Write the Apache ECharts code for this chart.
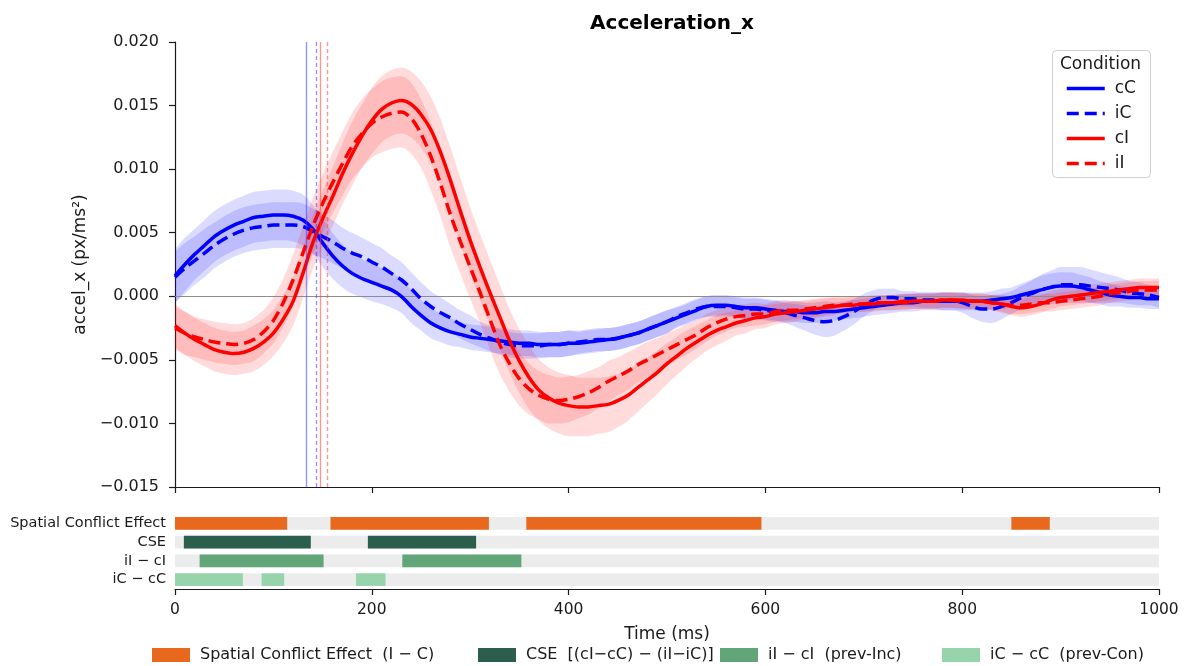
<!DOCTYPE html>
<html>
<head>
<meta charset="utf-8">
<script src="https://cdn.jsdelivr.net/npm/echarts@6/dist/echarts.min.js"></script>
<style>
  html, body { margin: 0; padding: 0; background: #fff; }
  #chart { width: 1184px; height: 666px; }
</style>
</head>
<body>
<div id="chart"></div>
<script>
// Sample grid of the averaged traces (ms after onset)
const timeMs = Array.from({ length: 101 }, (_, i) => i * 10);

const conditions = ['cC', 'iC', 'cI', 'iI'];

// Mean horizontal acceleration per condition (px/ms²), one value per 10 ms
const cC = [
  0.0016, 0.0025, 0.0033, 0.0040, 0.0047, 0.0052, 0.0056, 0.0059, 0.0062, 0.0063,
  0.0064, 0.0064, 0.0063, 0.0060, 0.0053, 0.0042, 0.0032, 0.0024, 0.0018, 0.0014,
  0.0011, 0.0008, 0.0005, 0.0000, -0.0008, -0.0015, -0.0021, -0.0025, -0.0028, -0.0030,
  -0.0032, -0.0033, -0.0034, -0.0035, -0.0036, -0.0037, -0.0037, -0.0038, -0.0038, -0.0038,
  -0.0037, -0.0037, -0.0036, -0.0035, -0.0034, -0.0033, -0.0031, -0.0029, -0.0026, -0.0023,
  -0.0020, -0.0017, -0.0014, -0.0011, -0.0008, -0.0007, -0.0007, -0.0008, -0.0009, -0.0009,
  -0.0010, -0.0011, -0.0012, -0.0012, -0.0013, -0.0013, -0.0012, -0.0012, -0.0011, -0.0010,
  -0.0009, -0.0008, -0.0007, -0.0006, -0.0005, -0.0005, -0.0004, -0.0004, -0.0004, -0.0004,
  -0.0004, -0.0004, -0.0004, -0.0003, -0.0002, -0.0001, 0.0001, 0.0003, 0.0005, 0.0007,
  0.0008, 0.0008, 0.0007, 0.0005, 0.0003, 0.0001, 0.0000, -0.0001, -0.0001, -0.0002,
  -0.0002
];
const iC = [
  0.0015, 0.0022, 0.0028, 0.0034, 0.0040, 0.0045, 0.0049, 0.0052, 0.0054, 0.0055,
  0.0056, 0.0056, 0.0056, 0.0055, 0.0051, 0.0047, 0.0043, 0.0038, 0.0034, 0.0031,
  0.0027, 0.0023, 0.0018, 0.0013, 0.0006, -0.0002, -0.0008, -0.0013, -0.0017, -0.0022,
  -0.0026, -0.0030, -0.0033, -0.0036, -0.0038, -0.0039, -0.0039, -0.0039, -0.0038, -0.0038,
  -0.0037, -0.0036, -0.0035, -0.0034, -0.0034, -0.0033, -0.0031, -0.0029, -0.0026, -0.0023,
  -0.0020, -0.0016, -0.0013, -0.0010, -0.0008, -0.0008, -0.0008, -0.0009, -0.0010, -0.0010,
  -0.0011, -0.0012, -0.0013, -0.0015, -0.0017, -0.0019, -0.0020, -0.0019, -0.0016, -0.0012,
  -0.0007, -0.0003, -0.0001, -0.0001, -0.0002, -0.0002, -0.0003, -0.0003, -0.0004, -0.0004,
  -0.0005, -0.0008, -0.0010, -0.0010, -0.0008, -0.0005, -0.0001, 0.0002, 0.0005, 0.0007,
  0.0009, 0.0009, 0.0009, 0.0008, 0.0007, 0.0006, 0.0005, 0.0003, 0.0002, 0.0001,
  -0.0001
];
const cI = [
  -0.0023, -0.0029, -0.0034, -0.0038, -0.0042, -0.0044, -0.0045, -0.0044, -0.0041, -0.0036,
  -0.0029, -0.0018, -0.0004, 0.0018, 0.0042, 0.0061, 0.0078, 0.0096, 0.0112, 0.0126,
  0.0138, 0.0147, 0.0152, 0.0154, 0.0151, 0.0143, 0.0131, 0.0113, 0.0091, 0.0067,
  0.0044, 0.0023, 0.0003, -0.0016, -0.0035, -0.0051, -0.0064, -0.0074, -0.0080, -0.0084,
  -0.0086, -0.0087, -0.0087, -0.0086, -0.0085, -0.0082, -0.0078, -0.0072, -0.0066, -0.0060,
  -0.0053, -0.0047, -0.0041, -0.0036, -0.0031, -0.0027, -0.0024, -0.0021, -0.0019, -0.0017,
  -0.0016, -0.0014, -0.0013, -0.0012, -0.0011, -0.0010, -0.0009, -0.0008, -0.0007, -0.0007,
  -0.0006, -0.0006, -0.0005, -0.0005, -0.0005, -0.0004, -0.0004, -0.0004, -0.0003, -0.0003,
  -0.0003, -0.0004, -0.0004, -0.0005, -0.0006, -0.0008, -0.0009, -0.0008, -0.0006, -0.0003,
  -0.0001, 0.0000, 0.0001, 0.0002, 0.0003, 0.0004, 0.0005, 0.0006, 0.0007, 0.0007,
  0.0007
];
const iI = [
  -0.0025, -0.0029, -0.0032, -0.0034, -0.0036, -0.0037, -0.0038, -0.0037, -0.0034, -0.0028,
  -0.0019, -0.0005, 0.0013, 0.0034, 0.0055, 0.0073, 0.0089, 0.0104, 0.0118, 0.0128,
  0.0136, 0.0141, 0.0144, 0.0145, 0.0140, 0.0128, 0.0110, 0.0088, 0.0064, 0.0043,
  0.0023, 0.0003, -0.0018, -0.0038, -0.0053, -0.0065, -0.0073, -0.0078, -0.0081, -0.0082,
  -0.0081, -0.0079, -0.0076, -0.0072, -0.0067, -0.0063, -0.0059, -0.0054, -0.0050, -0.0046,
  -0.0042, -0.0038, -0.0034, -0.0030, -0.0025, -0.0021, -0.0018, -0.0016, -0.0015, -0.0014,
  -0.0014, -0.0012, -0.0011, -0.0011, -0.0010, -0.0009, -0.0008, -0.0007, -0.0007, -0.0006,
  -0.0006, -0.0005, -0.0005, -0.0005, -0.0004, -0.0004, -0.0004, -0.0004, -0.0003, -0.0003,
  -0.0004, -0.0004, -0.0004, -0.0005, -0.0006, -0.0007, -0.0007, -0.0006, -0.0005, -0.0005,
  -0.0004, -0.0003, -0.0002, -0.0001, 0.0000, 0.0002, 0.0003, 0.0004, 0.0005, 0.0005,
  0.0005
];

// 95% CI half-widths per condition
const ciCC = [
  0.0021, 0.0021, 0.0020, 0.0020, 0.0020, 0.0020, 0.0020, 0.0020, 0.0020, 0.0020,
  0.0020, 0.0020, 0.0020, 0.0020, 0.0019, 0.0019, 0.0018, 0.0017, 0.0016, 0.0015,
  0.0015, 0.0014, 0.0014, 0.0013, 0.0013, 0.0012, 0.0012, 0.0011, 0.0011, 0.0010,
  0.0010, 0.0010, 0.0010, 0.0010, 0.0010, 0.0010, 0.0010, 0.0010, 0.0010, 0.0010,
  0.0010, 0.0009, 0.0009, 0.0009, 0.0009, 0.0009, 0.0009, 0.0009, 0.0009, 0.0009,
  0.0009, 0.0008, 0.0008, 0.0008, 0.0008, 0.0008, 0.0008, 0.0008, 0.0008, 0.0008,
  0.0008, 0.0008, 0.0008, 0.0008, 0.0008, 0.0008, 0.0008, 0.0007, 0.0007, 0.0007,
  0.0007, 0.0007, 0.0007, 0.0007, 0.0007, 0.0007, 0.0007, 0.0007, 0.0007, 0.0007,
  0.0007, 0.0007, 0.0007, 0.0007, 0.0008, 0.0008, 0.0009, 0.0010, 0.0011, 0.0011,
  0.0011, 0.0011, 0.0010, 0.0010, 0.0009, 0.0009, 0.0008, 0.0008, 0.0008, 0.0008,
  0.0008
];
const ciIC = [
  0.0020, 0.0020, 0.0019, 0.0019, 0.0018, 0.0018, 0.0018, 0.0018, 0.0018, 0.0018,
  0.0018, 0.0018, 0.0018, 0.0018, 0.0018, 0.0017, 0.0017, 0.0016, 0.0016, 0.0015,
  0.0015, 0.0015, 0.0014, 0.0014, 0.0013, 0.0013, 0.0012, 0.0012, 0.0011, 0.0011,
  0.0011, 0.0010, 0.0010, 0.0010, 0.0010, 0.0010, 0.0010, 0.0010, 0.0010, 0.0010,
  0.0010, 0.0009, 0.0009, 0.0009, 0.0009, 0.0009, 0.0009, 0.0009, 0.0009, 0.0009,
  0.0009, 0.0008, 0.0008, 0.0008, 0.0008, 0.0008, 0.0008, 0.0008, 0.0008, 0.0008,
  0.0008, 0.0008, 0.0008, 0.0009, 0.0010, 0.0011, 0.0012, 0.0012, 0.0011, 0.0010,
  0.0009, 0.0008, 0.0007, 0.0007, 0.0006, 0.0006, 0.0006, 0.0006, 0.0007, 0.0007,
  0.0008, 0.0009, 0.0010, 0.0011, 0.0010, 0.0009, 0.0009, 0.0010, 0.0012, 0.0013,
  0.0014, 0.0014, 0.0014, 0.0013, 0.0012, 0.0011, 0.0010, 0.0009, 0.0009, 0.0008,
  0.0008
];
const ciCI = [
  0.0017, 0.0017, 0.0017, 0.0017, 0.0017, 0.0017, 0.0017, 0.0017, 0.0018, 0.0018,
  0.0018, 0.0019, 0.0019, 0.0020, 0.0021, 0.0022, 0.0023, 0.0024, 0.0025, 0.0025,
  0.0026, 0.0026, 0.0026, 0.0026, 0.0026, 0.0026, 0.0026, 0.0026, 0.0026, 0.0026,
  0.0026, 0.0026, 0.0026, 0.0025, 0.0025, 0.0025, 0.0025, 0.0024, 0.0024, 0.0024,
  0.0024, 0.0023, 0.0023, 0.0022, 0.0022, 0.0021, 0.0020, 0.0019, 0.0018, 0.0017,
  0.0016, 0.0015, 0.0014, 0.0013, 0.0012, 0.0012, 0.0011, 0.0010, 0.0010, 0.0009,
  0.0009, 0.0008, 0.0008, 0.0008, 0.0007, 0.0007, 0.0007, 0.0007, 0.0006, 0.0006,
  0.0006, 0.0006, 0.0006, 0.0006, 0.0006, 0.0006, 0.0006, 0.0006, 0.0006, 0.0006,
  0.0006, 0.0006, 0.0006, 0.0006, 0.0007, 0.0007, 0.0007, 0.0007, 0.0007, 0.0007,
  0.0007, 0.0007, 0.0007, 0.0007, 0.0007, 0.0007, 0.0007, 0.0007, 0.0007, 0.0007,
  0.0007
];
const ciII = [
  0.0017, 0.0017, 0.0016, 0.0016, 0.0016, 0.0016, 0.0016, 0.0016, 0.0017, 0.0017,
  0.0018, 0.0019, 0.0020, 0.0021, 0.0022, 0.0023, 0.0024, 0.0025, 0.0026, 0.0027,
  0.0027, 0.0028, 0.0028, 0.0028, 0.0028, 0.0027, 0.0027, 0.0026, 0.0026, 0.0025,
  0.0025, 0.0024, 0.0024, 0.0023, 0.0022, 0.0021, 0.0020, 0.0019, 0.0019, 0.0018,
  0.0018, 0.0017, 0.0017, 0.0016, 0.0016, 0.0015, 0.0015, 0.0014, 0.0014, 0.0013,
  0.0013, 0.0012, 0.0012, 0.0011, 0.0011, 0.0010, 0.0010, 0.0009, 0.0009, 0.0009,
  0.0008, 0.0008, 0.0008, 0.0007, 0.0007, 0.0007, 0.0007, 0.0006, 0.0006, 0.0006,
  0.0006, 0.0006, 0.0006, 0.0006, 0.0006, 0.0006, 0.0006, 0.0006, 0.0006, 0.0006,
  0.0006, 0.0006, 0.0006, 0.0006, 0.0006, 0.0007, 0.0007, 0.0007, 0.0007, 0.0007,
  0.0007, 0.0007, 0.0007, 0.0007, 0.0007, 0.0007, 0.0007, 0.0007, 0.0007, 0.0007,
  0.0007
];

// Movement onset per condition (ms), same order as `conditions`
const onsetMs = [133, 144, 148, 155];

// Significance rows of the lower panel, top to bottom
const effectRows = ['Spatial Conflict Effect', 'CSE', 'iI \u2212 cI', 'iC \u2212 cC'];
const effectNames = [
  'Spatial Conflict Effect  (I \u2212 C)',
  'CSE  [(cI\u2212cC) \u2212 (iI\u2212iC)]',
  'iI \u2212 cI  (prev-Inc)',
  'iC \u2212 cC  (prev-Con)'
];
// Significant clusters [start ms, end ms] per row
const sceClusters = [[0, 114], [158, 319], [357, 596], [850, 889]];
const cseClusters = [[9, 138], [196, 306]];
const prevIncClusters = [[25, 151], [231, 352]];
const prevConClusters = [[0, 69], [88, 111], [184, 214]];

// Axis ranges
const timeRange = [0, 1000];
const accelRange = [-0.015, 0.020];

// ---- styling ----
const FONT = 'DejaVu Sans';
const INK = '#1a1a1a';
const meanBy = { cC, iC, cI, iI };
const ciBy = { cC: ciCC, iC: ciIC, cI: ciCI, iI: ciII };
const styleBy = {
  cC: { color: '#0000ff', band: 'rgba(0,0,255,0.14)', onset: 'rgba(60,60,255,0.55)', dash: 'solid' },
  iC: { color: '#0000ff', band: 'rgba(0,0,255,0.14)', onset: 'rgba(60,60,255,0.55)', dash: [12, 6] },
  cI: { color: '#ff0000', band: 'rgba(255,0,0,0.14)', onset: 'rgba(255,60,60,0.55)', dash: 'solid' },
  iI: { color: '#ff0000', band: 'rgba(255,0,0,0.14)', onset: 'rgba(255,60,60,0.55)', dash: [12, 6] }
};
const effectColors = ['#e8691d', '#2b5e4d', '#61a579', '#97d4ab'];
const effectClusters = [sceClusters, cseClusters, prevIncClusters, prevConClusters];
// left edge of each entry in the bottom key
const effectKeyLeft = [152, 478, 720, 942];

const series = [];

// Confidence bands: invisible lower edge + stacked width filled as area
conditions.forEach((c) => {
  const m = meanBy[c], ci = ciBy[c];
  const lower = m.map((v, i) => v - ci[i]);
  const width = ci.map((h) => 2 * h);
  const common = {
    type: 'line', xAxisIndex: 0, yAxisIndex: 0, stack: 'band-' + c, stackStrategy: 'all',
    symbol: 'none', smooth: 0.3, silent: true, z: 1, lineStyle: { opacity: 0, width: 0 }
  };
  series.push(Object.assign({ name: c + ' lower', data: lower }, common));
  series.push(Object.assign({ name: c + ' band', data: width, areaStyle: { color: styleBy[c].band, opacity: 1 } }, common));
});

// Zero reference line
series.push({
  type: 'line', name: 'zero', xAxisIndex: 1, yAxisIndex: 0, data: [], silent: true,
  markLine: {
    silent: true, symbol: 'none', z: 2, label: { show: false },
    lineStyle: { color: '#8c8c8c', width: 1, type: 'solid' },
    data: [{ yAxis: 0 }]
  }
});

// Condition means
conditions.forEach((c) => {
  series.push({
    name: c, type: 'line', xAxisIndex: 0, yAxisIndex: 0, data: meanBy[c],
    symbol: 'none', smooth: 0.3, z: 3,
    itemStyle: { color: styleBy[c].color },
    lineStyle: { color: styleBy[c].color, width: 3.5, type: styleBy[c].dash, cap: 'butt' }
  });
});

// Onset markers
series.push({
  type: 'line', name: 'onsets', xAxisIndex: 1, yAxisIndex: 0, data: [], silent: true,
  markLine: {
    silent: true, symbol: 'none', z: 4, label: { show: false },
    data: conditions.map((c, k) => ({
      xAxis: onsetMs[k],
      lineStyle: { color: styleBy[c].onset, width: 1.4, type: styleBy[c].dash === 'solid' ? 'solid' : [4, 3] }
    }))
  }
});

// Lower panel: grey tracks then significant clusters
function clusterRenderer(fill) {
  return function (params, api) {
    const row = api.value(2);
    const a = api.coord([api.value(0), row]);
    const b = api.coord([api.value(1), row]);
    const h = api.size([0, 1])[1] * 0.67;
    return {
      type: 'rect',
      shape: { x: a[0], y: a[1] - h / 2, width: b[0] - a[0], height: h },
      style: { fill: fill }
    };
  };
}
series.push({
  type: 'custom', name: 'tracks', xAxisIndex: 2, yAxisIndex: 1, silent: true, z: 1,
  encode: { x: [0, 1], y: 2 },
  data: effectRows.map((_, r) => [timeRange[0], timeRange[1], r]),
  renderItem: clusterRenderer('#ececec')
});
effectClusters.forEach((clusters, r) => {
  series.push({
    type: 'custom', name: effectNames[r], xAxisIndex: 2, yAxisIndex: 1, silent: true, z: 2,
    encode: { x: [0, 1], y: 2 },
    itemStyle: { color: effectColors[r] },
    data: clusters.map((s) => [s[0], s[1], r]),
    renderItem: clusterRenderer(effectColors[r])
  });
});

const fmtAccel = (v) => {
  const r = Math.round(v * 1000) / 1000;
  return (r < 0 ? '\u2212' : '') + Math.abs(r).toFixed(3);
};

const legends = [
  {
    data: conditions, orient: 'vertical', left: 1065, top: 80, padding: 0,
    itemWidth: 38, itemHeight: 14, itemGap: 8, selectedMode: false,
    itemStyle: { opacity: 0 },
    lineStyle: { width: 3.5 },
    textStyle: { fontFamily: FONT, fontSize: 17, color: INK, padding: [0, 0, 0, 5] }
  }
];
effectNames.forEach((name, k) => {
  legends.push({
    data: [name], left: effectKeyLeft[k], top: 647, padding: 0,
    icon: 'rect', itemWidth: 38, itemHeight: 14, selectedMode: false,
    textStyle: { fontFamily: FONT, fontSize: 16, color: INK, padding: [0, 0, 0, 5] }
  });
});

const option = {
  animation: false,
  backgroundColor: '#ffffff',
  textStyle: { fontFamily: FONT, color: INK },
  title: {
    text: 'Acceleration_x', left: 667, top: 9, textAlign: 'center',
    textStyle: { fontFamily: FONT, fontSize: 20, fontWeight: 'bold', color: '#000' }
  },
  grid: [
    { left: 175, right: 25, top: 42, height: 445 },
    { left: 175, right: 25, top: 514, height: 75 }
  ],
  xAxis: [
    {
      type: 'category', gridIndex: 0, data: timeMs, boundaryGap: false,
      axisLine: { show: true, onZero: false, lineStyle: { color: INK, width: 1.2 } },
      axisTick: { show: true, interval: 19, length: 6, lineStyle: { color: INK, width: 1.2 } },
      axisLabel: { show: false }, splitLine: { show: false }
    },
    {
      type: 'value', gridIndex: 0, min: timeRange[0], max: timeRange[1], show: false
    },
    {
      type: 'value', gridIndex: 1, min: timeRange[0], max: timeRange[1], interval: 200,
      name: 'Time (ms)', nameLocation: 'middle', nameGap: 37,
      nameTextStyle: { fontFamily: FONT, fontSize: 17, color: INK },
      axisLine: { show: true, onZero: false, lineStyle: { color: INK, width: 1.2 } },
      axisTick: { show: true, length: 6, lineStyle: { color: INK, width: 1.2 } },
      axisLabel: { fontFamily: FONT, fontSize: 15.5, color: INK, margin: 13, formatter: (v) => String(v) },
      splitLine: { show: false }
    }
  ],
  yAxis: [
    {
      type: 'value', gridIndex: 0, min: accelRange[0], max: accelRange[1], interval: 0.005,
      name: 'accel_x (px/ms\u00b2)', nameLocation: 'middle', nameGap: 68,
      nameTextStyle: { fontFamily: FONT, fontSize: 17, color: INK },
      axisLine: { show: true, lineStyle: { color: INK, width: 1.2 } },
      axisTick: { show: true, length: 6, lineStyle: { color: INK, width: 1.2 } },
      axisLabel: { fontFamily: FONT, fontSize: 16, color: INK, margin: 16, formatter: fmtAccel },
      splitLine: { show: false }
    },
    {
      type: 'category', gridIndex: 1, data: effectRows, inverse: true,
      axisLine: { show: false }, axisTick: { show: false },
      axisLabel: { fontFamily: FONT, fontSize: 14.5, color: INK, margin: 9, interval: 0 }
    }
  ],
  legend: legends,
  graphic: [
    {
      type: 'rect', left: 1052, top: 50, z: 0, zlevel: 0,
      shape: { width: 98, height: 127, r: 4 },
      style: { fill: 'rgba(255,255,255,0.85)', stroke: '#cfcfcf', lineWidth: 1 }
    },
    {
      type: 'text', left: 1060, top: 56, z: 6,
      style: { text: 'Condition', fontFamily: FONT, fontSize: 17, fill: INK }
    }
  ],
  series: series
};

const chart = echarts.init(document.getElementById('chart'));
chart.setOption(option);
</script>
</body>
</html>
